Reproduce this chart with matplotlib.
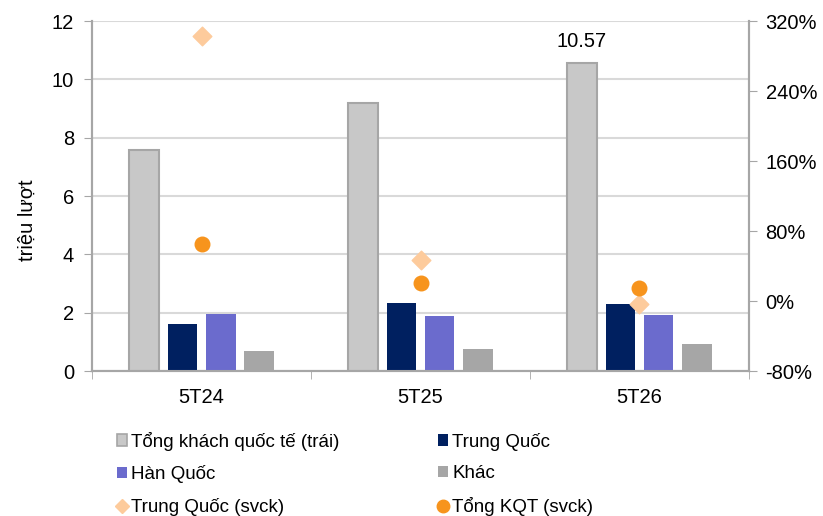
import numpy as np
import matplotlib.pyplot as plt
from matplotlib.lines import Line2D
from matplotlib.patches import Patch
from matplotlib.ticker import FuncFormatter

plt.rcParams['font.family'] = ['Liberation Sans', 'DejaVu Sans']

categories = ['5T24', '5T25', '5T26']
tong_kqt = [7.58, 9.20, 10.57]
trung_quoc = [1.60, 2.34, 2.29]
han_quoc = [1.94, 1.89, 1.91]
khac = [0.70, 0.75, 0.94]
tq_svck = [303, 47, -3]      # %
tong_svck = [65, 21, 15]     # %

c_total = '#c8c8c8'
c_total_edge = '#a6a6a6'
c_tq = '#002060'
c_hq = '#6b6bcd'
c_khac = '#a6a6a6'
c_diamond = '#fdcb9c'
c_circle = '#f7941d'
axis_col = '#a6a6a6'
fs = 14.5

fig = plt.figure(figsize=(8.23, 5.16), dpi=100)
ax = fig.add_axes([0.112, 0.281, 0.798, 0.678])
ax2 = ax.twinx()

x = np.arange(len(categories))
w = 0.135
step = 0.175
ax.bar(x - 1.5 * step, tong_kqt, w, color=c_total, edgecolor=c_total_edge, linewidth=1.5, zorder=3)
ax.bar(x - 0.5 * step, trung_quoc, w, color=c_tq, zorder=3)
ax.bar(x + 0.5 * step, han_quoc, w, color=c_hq, zorder=3)
ax.bar(x + 1.5 * step, khac, w, color=c_khac, zorder=3)

ax.text(x[2] - 1.5 * step, tong_kqt[2] + 0.4, '10.57', ha='center', va='bottom', fontsize=fs)

ax2.scatter(x, tq_svck, marker='D', s=90, color=c_diamond, zorder=4)
ax2.scatter(x, tong_svck, marker='o', s=110, color=c_circle, zorder=5)

ax.set_xlim(-0.5, 2.5)
ax.set_ylim(0, 12)
ax.set_yticks(range(0, 13, 2))
ax2.set_ylim(-80, 320)
ax2.set_yticks(range(-80, 321, 80))
ax2.yaxis.set_major_formatter(FuncFormatter(lambda v, p: '%d%%' % v))

ax.set_xticks(x)
ax.set_xticklabels(categories, fontsize=fs)
ax.set_xticks([-0.5, 0.5, 1.5, 2.5], minor=True)
ax.tick_params(axis='x', which='major', length=0, pad=12)
ax.tick_params(axis='x', which='minor', length=6, color=axis_col, direction='out')
ax.tick_params(axis='y', labelsize=fs, length=6, color=axis_col, pad=7)
ax2.tick_params(axis='y', labelsize=fs, length=6, color=axis_col, pad=6)

ax.grid(axis='y', color='#d9d9d9', linewidth=1.5, zorder=0)
ax.set_axisbelow(True)
for a in (ax, ax2):
    a.spines['top'].set_visible(False)
    for s in ('left', 'right', 'bottom'):
        a.spines[s].set_color(axis_col)
        a.spines[s].set_linewidth(1.5)
ax.set_ylabel('triệu lượt', fontsize=fs)
ax.yaxis.set_label_coords(-0.085, 0.43)

handles = [
    Patch(facecolor=c_total, edgecolor=c_total_edge, linewidth=1.2, label='Tổng khách quốc tế (trái)'),
    Patch(facecolor=c_hq, label='Hàn Quốc'),
    Line2D([], [], marker='D', linestyle='', color=c_diamond, markersize=7, label='Trung Quốc (svck)'),
    Patch(facecolor=c_tq, label='Trung Quốc'),
    Patch(facecolor=c_khac, label='Khác'),
    Line2D([], [], marker='o', linestyle='', color=c_circle, markersize=9, label='Tổng KQT (svck)'),
]
fig.legend(handles=handles, ncol=2, loc='upper left', bbox_to_anchor=(0.1325, 0.178),
           frameon=False, fontsize=13.5, handlelength=0.55, handleheight=0.55,
           handletextpad=0.2, columnspacing=5.28, labelspacing=0.78, borderaxespad=0)

fig.savefig('out.png', dpi=100)
